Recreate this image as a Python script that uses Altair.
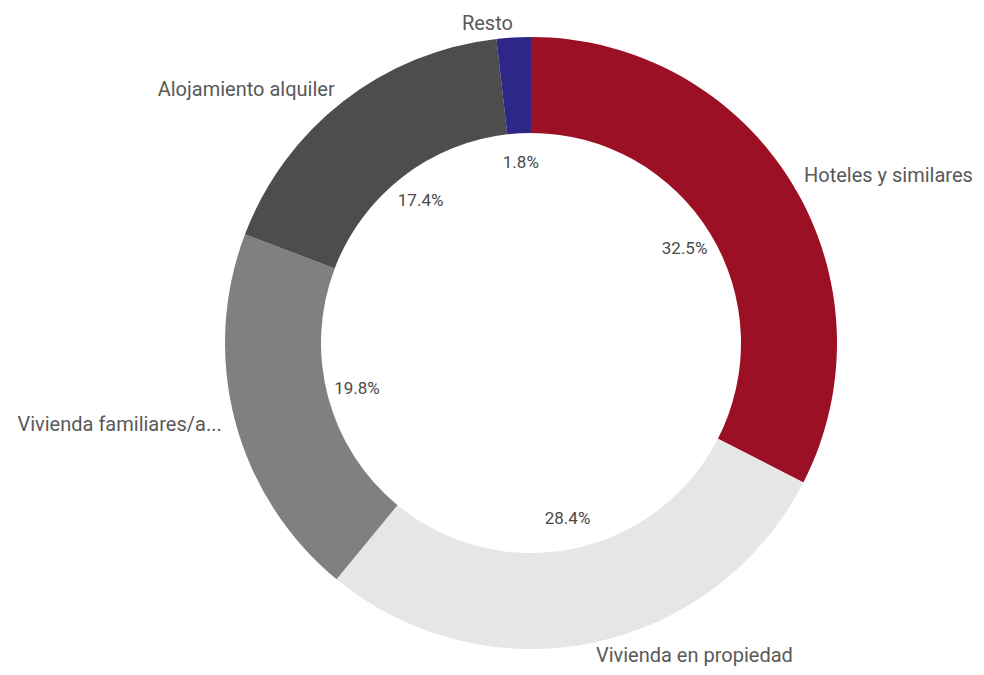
import altair as alt
import pandas as pd

categories = ["Hoteles y similares", "Vivienda en propiedad", "Vivienda familiares/a...",
              "Alojamiento alquiler", "Resto"]
shares = [32.5, 28.4, 19.8, 17.4, 1.8]
colors = ["#9B1024", "#E6E6E6", "#808080", "#4D4D4D", "#2E2688"]

total = sum(shares)
df = pd.DataFrame({"cat": categories, "share": shares, "idx": list(range(len(shares)))})
df["end"] = df["share"].cumsum()
df["start"] = df["end"] - df["share"]
df["mid"] = (df["start"] + df["end"]) / 2
df["pct"] = [f"{v:.1f}%" for v in shares]
df["side"] = ["right" if m < total / 2 else "left" for m in df["mid"]]

theta_scale = alt.Scale(domain=[0, total])
base = alt.Chart(df)
FONT = "Roboto"

arcs = base.mark_arc(outerRadius=306, innerRadius=210).encode(
    theta=alt.Theta("start:Q", scale=theta_scale),
    theta2="end:Q",
    color=alt.Color("cat:N", scale=alt.Scale(domain=categories, range=colors), legend=None),
)

pct = base.mark_text(radius=180, fontSize=17, font=FONT, color="#4a4a4a").encode(
    theta=alt.Theta("mid:Q", scale=theta_scale), text="pct:N"
)

lab_r = base.transform_filter(alt.datum.side == "right").mark_text(
    radius=320, align="left", baseline="middle", fontSize=20, font=FONT, color="#595959"
).encode(theta=alt.Theta("mid:Q", scale=theta_scale), text="cat:N")

lab_l = base.transform_filter(alt.datum.side == "left").mark_text(
    radius=320, align="right", baseline="middle", fontSize=20, font=FONT, color="#595959"
).encode(theta=alt.Theta("mid:Q", scale=theta_scale), text="cat:N")

chart = alt.layer(arcs, pct, lab_r, lab_l).properties(
    width=890, height=644,
    autosize=alt.AutoSizeParams(type="none"),
    padding={"left": 78, "top": 13, "right": 0, "bottom": 2},
).configure_view(stroke=None)

chart.save("out.html", embed_options={"renderer": "svg", "actions": False})
